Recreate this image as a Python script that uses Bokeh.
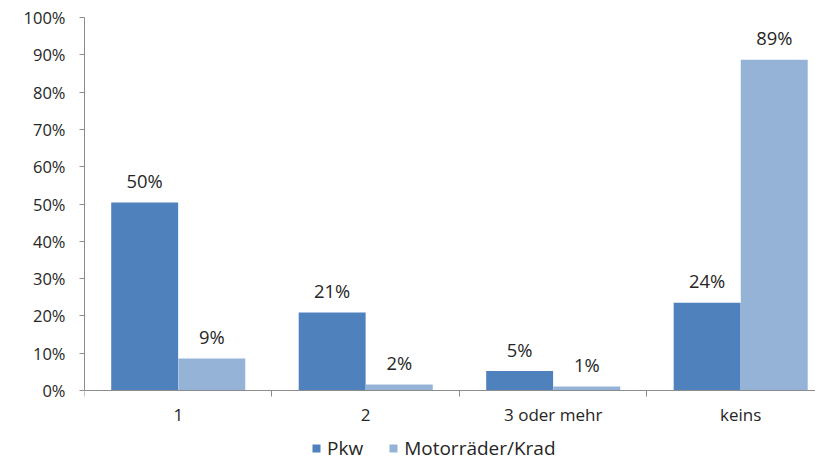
from bokeh.plotting import figure
from bokeh.models import (ColumnDataSource, Range1d, FixedTicker, PrintfTickFormatter,
                          Legend, LegendItem)
from bokeh.core.properties import value
from bokeh.embed import file_html
from bokeh.resources import INLINE

categories = ["1", "2", "3 oder mehr", "keins"]
pkw = [50.4, 20.9, 5.2, 23.5]
motor = [8.6, 1.6, 1.1, 88.7]
pkw_labels = ["50%", "21%", "5%", "24%"]
motor_labels = ["9%", "2%", "1%", "89%"]
y_ticks = [0, 10, 20, 30, 40, 50, 60, 70, 80, 90, 100]

FONT = "Open Sans"
TXT = "#262626"
AX = "#8c8c8c"
C_PKW = "#4F81BD"
C_MOT = "#95B3D7"

idx = list(range(len(categories)))
bw = 0.357
off = 0.179
src_p = ColumnDataSource(dict(x=[i + 0.5 - off for i in idx], top=pkw, lab=pkw_labels))
src_m = ColumnDataSource(dict(x=[i + 0.5 + off for i in idx], top=motor, lab=motor_labels))

# frame spans 17..461 px vertically; 0..100 % occupies 17..390 px
y_lo = -(461 - 390) / (390 - 17) * 100

p = figure(width=815, height=461, output_backend="svg", toolbar_location=None,
           x_range=Range1d(0, 3.899), y_range=Range1d(y_lo, 100),
           min_border_left=84, min_border_right=0, min_border_top=17, min_border_bottom=0)
p.xgrid.visible = False
p.ygrid.visible = False
p.outline_line_color = None
p.background_fill_color = "white"
p.border_fill_color = "white"

r1 = p.vbar(x="x", top="top", width=bw, source=src_p, fill_color=C_PKW, line_color=None)
r2 = p.vbar(x="x", top="top", width=bw, source=src_m, fill_color=C_MOT, line_color=None)

for s in (src_p, src_m):
    p.text(x="x", y="top", text="lab", source=s, text_align="center",
           text_baseline="alphabetic", y_offset=-22, text_font=value(FONT),
           text_font_size="18.4px", text_color=TXT)

# y axis
ya = p.yaxis[0]
ya.bounds = (0, 100)
ya.ticker = FixedTicker(ticks=y_ticks)
ya.formatter = PrintfTickFormatter(format="%d%%")
ya.axis_line_color = AX
ya.major_tick_line_color = AX
ya.major_tick_in = 0
ya.major_tick_out = 5
ya.minor_tick_line_color = None
ya.major_label_standoff = 14
ya.major_label_text_font = FONT
ya.major_label_text_font_size = "16.5px"
ya.major_label_text_color = TXT

# x axis
xa = p.xaxis[0]
xa.fixed_location = 0
centers = [i + 0.5 for i in idx]
xa.ticker = FixedTicker(ticks=centers, minor_ticks=[float(i) for i in range(len(categories) + 1)])
xa.major_label_overrides = {c: lab for c, lab in zip(centers, categories)}
xa.axis_line_color = AX
xa.major_tick_line_color = None
xa.major_tick_in = 0
xa.major_tick_out = 0
xa.minor_tick_line_color = AX
xa.minor_tick_in = 0
xa.minor_tick_out = 6
xa.major_label_standoff = 6
xa.major_label_text_font = FONT
xa.major_label_text_font_size = "17px"
xa.major_label_text_color = TXT

legend = Legend(items=[LegendItem(label="Pkw", renderers=[r1]),
                       LegendItem(label="Motorräder/Krad", renderers=[r2])],
                orientation="horizontal", location=(227, 0),
                glyph_width=10, glyph_height=10, label_standoff=6, spacing=25,
                label_text_font=FONT, label_text_font_size="19px", label_text_color=TXT,
                border_line_color=None, background_fill_alpha=0, padding=0, margin=0)
p.add_layout(legend, "center")

open("out.html", "w").write(file_html(p, INLINE))
